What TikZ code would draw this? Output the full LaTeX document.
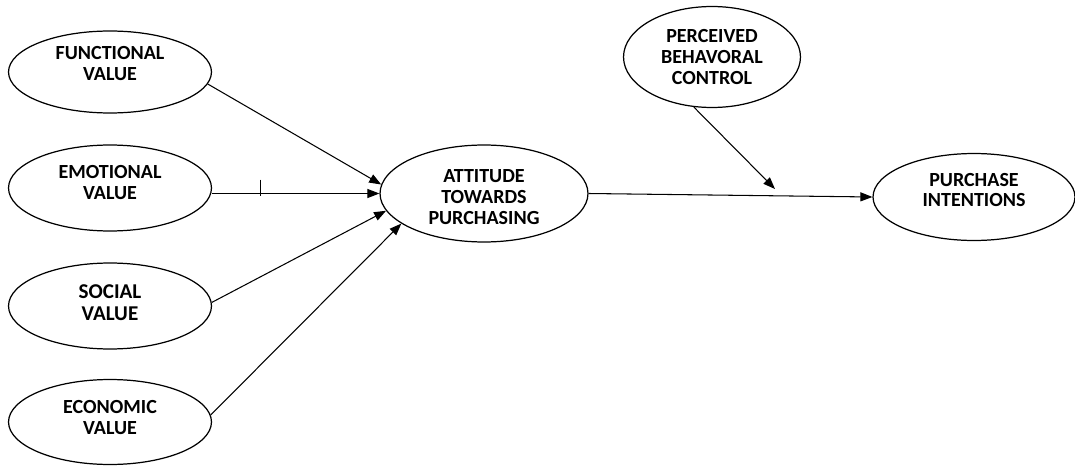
\documentclass[tikz,border=0pt]{standalone}
\usepackage{fontspec}
\setmainfont{Carlito}
\usepackage{tikz}
\usetikzlibrary{shapes.geometric, arrows.meta}

\begin{document}
\begin{tikzpicture}[x=0.02cm, y=-0.02cm,
        construct/.style={draw, ellipse, line width=0.7pt, inner sep=0pt,
            minimum width=4.06cm, minimum height=1.7cm},
        ctext/.style={inner sep=0pt, align=center, font=\fontsize{11.4}{11.8}\selectfont\bfseries},
        path/.style={line width=0.6pt, -{Triangle[length=2.4mm, width=1.8mm]}}]
        \useasboundingbox (0,0) rectangle (1075,466);

        \node[construct, minimum height=1.64cm] (FUN) at (110,72) {};
        \node[construct, minimum height=1.72cm] (EMO) at (110,188) {};
        \node[construct, minimum height=1.72cm] (SOC) at (110,306) {};
        \node[construct] (ECO) at (110,422) {};
        \node[construct, minimum width=4.16cm, minimum height=1.94cm] (ATT) at (484,193.5) {};
        \node[construct, minimum width=3.54cm, minimum height=2.02cm] (PBC) at (712,57) {};
        \node[construct, minimum width=4.04cm, minimum height=1.74cm] (PI) at (974,197) {};

        \node[ctext] (FUNt) at ([yshift=4.8pt]FUN) {FUNCTIONAL\\VALUE};
        \node[ctext] (EMOt) at ([yshift=3.1pt]EMO) {EMOTIONAL\\VALUE};
        \node[ctext, font=\fontsize{12}{12.8}\selectfont\bfseries] (SOCt) at ([yshift=2pt]SOC) {SOCIAL\\VALUE};
        \node[ctext] (ECOt) at ([yshift=2.5pt]ECO) {ECONOMIC\\VALUE};
        \node[ctext] (ATTt) at ([yshift=-2pt]ATT) {ATTITUDE\\TOWARDS\\PURCHASING};
        \node[ctext] (PBCt) at ([yshift=0pt]PBC) {PERCEIVED\\BEHAVORAL\\CONTROL};
        \node[ctext] (PIt) at ([yshift=4pt]PI) {PURCHASE\\INTENTIONS};
        \coordinate (MOD) at (775,189);

        \draw[path] (FUN.-7) -- (ATT.175);
        \draw[path] (EMO.east |- ATT.west) -- coordinate[pos=0.29] (TICK) (ATT.west);
        \draw[line width=0.6pt] (TICK) ++(0,-14) -- ++(0,16);
        \draw[path] (SOC.2) -- (ATT.190);
        \draw[path] (ECO.4) -- (ATT.200);
        \draw[path] (ATT.east) -- (PI.west);
        \draw[path] (PBC.250) -- (MOD);
    \end{tikzpicture}
\end{document}
